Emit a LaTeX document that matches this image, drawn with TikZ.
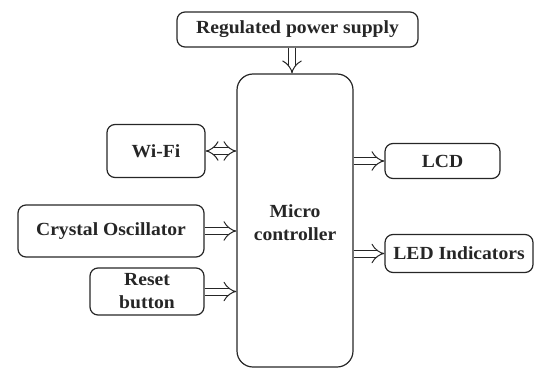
\documentclass[tikz,border=0pt]{standalone}
\usepackage{fontspec}
\setmainfont{Liberation Serif}[FakeStretch=1.06]
\usetikzlibrary{arrows.meta}
\begin{document}
\begin{tikzpicture}[x=1pt,y=1pt,
  blk/.style={draw=black!85, line width=1.2pt, rounded corners=8pt, inner sep=0pt, align=center,
    font=\fontsize{18.5}{21}\selectfont\bfseries, text=black!85},
  conn/.style={draw=black!85, line width=1pt, double=white, double distance=6pt, -{Implies}},
  bconn/.style={conn, {Implies}-{Implies}}]
\useasboundingbox (0,0) rectangle (534,-369);
\node[blk, minimum width=241pt, minimum height=35pt] (psu) at (297.5,-29.5) {Regulated power supply};
\node[blk, rounded corners=16pt, minimum width=116pt, minimum height=293pt] (mc) at (295,-220.5) {};
\node[font=\fontsize{18.5}{23}\selectfont\bfseries, text=black!85, align=center] (mctext) at (295,-223) {Micro\\controller};
\node[blk, minimum width=98pt, minimum height=53pt] (wifi) at (156,-151) {Wi-Fi};
\node[blk, minimum width=186pt, minimum height=52pt] (crystal) at (111,-231) {Crystal Oscillator};
\node[blk, minimum width=114pt, minimum height=47pt, font=\fontsize{18.5}{23}\selectfont\bfseries] (reset) at (147,-291.5) {Reset\\button};
\node[blk, minimum width=115pt, minimum height=35pt] (lcd) at (442.5,-161) {LCD};
\node[blk, minimum width=148pt, minimum height=38pt] (led) at (459,-253.5) {LED Indicators};
\draw[conn] (psu.south -| 292,0) -- (mc.north -| 292,0);
\draw[bconn] (wifi.east) -- (wifi.east -| mc.west);
\draw[conn] (crystal.east) -- (crystal.east -| mc.west);
\draw[conn] (reset.east) -- (reset.east -| mc.west);
\draw[conn] (lcd.west -| mc.east) -- (lcd.west);
\draw[conn] (led.west -| mc.east) -- (led.west);
\end{tikzpicture}
\end{document}
